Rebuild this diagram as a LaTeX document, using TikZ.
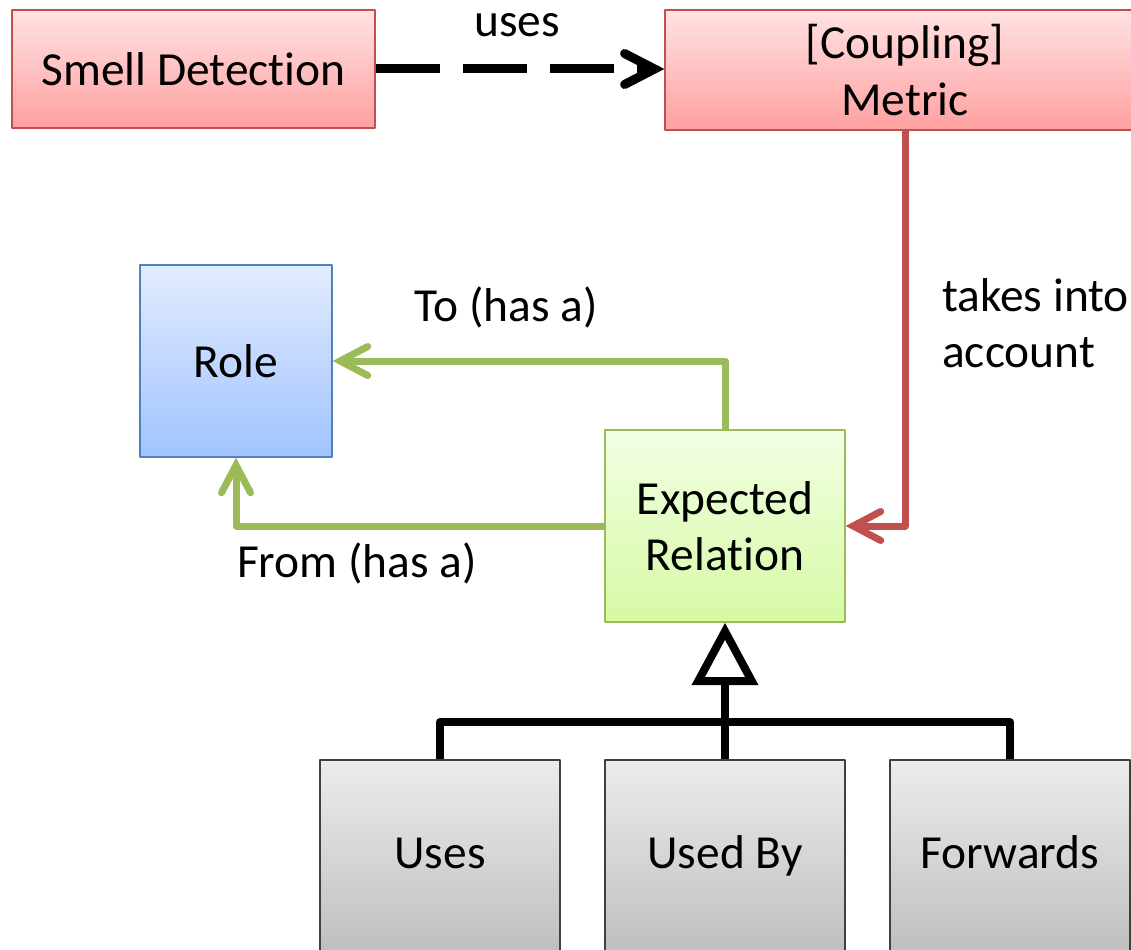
\documentclass[tikz,border=0pt]{standalone}
\usepackage{fontspec}
\setmainfont{Carlito}[Ligatures=NoCommon]
\usetikzlibrary{
    arrows.meta,
    calc,
}
\definecolor{redtop}{RGB}{255,226,226}
\definecolor{redbot}{RGB}{255,160,160}
\definecolor{redline}{RGB}{192,80,77}
\definecolor{bluetop}{RGB}{226,236,255}
\definecolor{bluebot}{RGB}{160,195,255}
\definecolor{blueline}{RGB}{79,129,189}
\definecolor{greentop}{RGB}{242,255,228}
\definecolor{greenbot}{RGB}{214,250,164}
\definecolor{greenline}{RGB}{155,187,89}
\definecolor{graytop}{RGB}{236,236,236}
\definecolor{graybot}{RGB}{190,190,190}

\begin{document}
\begin{tikzpicture}[x=0.02cm, y=-0.02cm, line join=round,
    every node/.style = {font=\fontsize{27}{32}\selectfont, align=center},
    box/.style = {draw, line width=0.8pt, inner sep=0pt},
    redbox/.style = {box, draw=redline, top color=redtop, bottom color=redbot},
    bluebox/.style = {box, draw=blueline, top color=bluetop, bottom color=bluebot},
    greenbox/.style = {box, draw=greenline, top color=greentop, bottom color=greenbot},
    graybox/.style = {box, draw=black!75, top color=graytop, bottom color=graybot,
        minimum width=4.8cm, minimum height=3.92cm, text height=1.15em, text depth=0pt},
    usesarrow/.style = {line width=0.18cm, dash pattern=on 1.28cm off 0.46cm,
        -{Straight Barb[length=0.6cm, width=0.62cm, line cap=round]}},
    redarrow/.style = {line width=0.14cm, draw=redline,
        -{Straight Barb[length=0.55cm, width=0.58cm, line cap=round]}},
    greenarrow/.style = {line width=0.14cm, draw=greenline,
        -{Straight Barb[length=0.55cm, width=0.58cm, line cap=round]}},
    inherit/.style = {line width=0.16cm},
]
    \useasboundingbox (0,0) rectangle (1131,949);

    \node[redbox, minimum width=7.26cm, minimum height=2.36cm] (smell) at (193.5,69) {Smell Detection};
    \node[redbox, minimum width=9.6cm, minimum height=2.4cm] (metric) at (905,70) {[Coupling]\\Metric};
    \node[bluebox, minimum width=3.84cm, minimum height=3.84cm] (role) at (236,361) {Role};
    \node[greenbox, minimum width=4.8cm, minimum height=3.84cm] (exprel) at (725,526) {Expected\\Relation};
    \node[graybox] (uses) at (440,858) {Uses};
    \node[graybox] (usedby) at (725,858) {Used By};
    \node[graybox] (fwd) at (1010,858) {Forwards};
    \coordinate (bar) at (725,722);

    \draw[usesarrow] (smell.east) -- (smell.east -| metric.west);
    \draw[redarrow] (metric.south) |- (exprel.east);
    \draw[greenarrow] (exprel.north) |- (role.east);
    \draw[greenarrow] (exprel.west) -| (role.south);
    \draw[inherit] (uses.north) |- (bar) -| (fwd.north);
    \draw[inherit, -{Triangle[length=1.25cm, width=1.3cm, fill=white]}] (usedby.north) -- (exprel.south);

    \node (l1) at (517,25) {uses};
    \node[anchor=west, align=left] (l2) at (936,323) {takes into\\account};
    \node (l3) at (506,307) {To (has a)};
    \node (l4) at (357,563) {From (has a)};
\end{tikzpicture}
\end{document}
